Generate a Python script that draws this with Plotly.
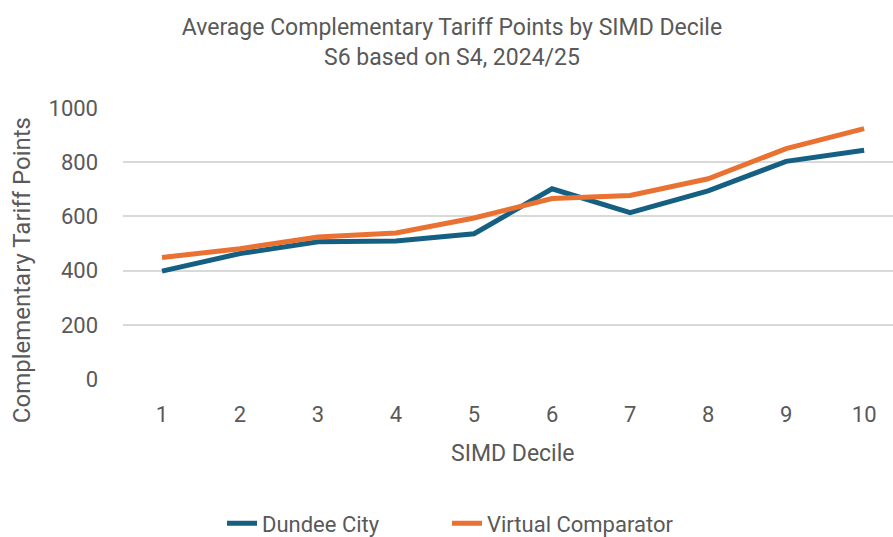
import plotly.graph_objects as go

deciles = ["1", "2", "3", "4", "5", "6", "7", "8", "9", "10"]
dundee = [398, 463, 506, 509, 536, 702, 614, 694, 803, 844]
virtual = [448, 481, 524, 539, 594, 666, 677, 739, 850, 924]
y_ticks = [0, 200, 400, 600, 800, 1000]

FONT = "Roboto"
GREY = "#595959"

W, H = 893, 537
L, T, B = 123, 108, 537 - 378.7
PH = H - T - B
PW = W - L

fig = go.Figure()
fig.add_trace(go.Scatter(x=deciles, y=dundee, mode="lines", name="Dundee City",
                         line=dict(color="#156082", width=5), legend="legend"))
fig.add_trace(go.Scatter(x=deciles, y=virtual, mode="lines", name="Virtual Comparator",
                         line=dict(color="#E97132", width=5), legend="legend2"))

leg_common = dict(orientation="h", xref="paper", xanchor="left",
                  y=-(523 - 378.7) / PH, yanchor="middle",
                  font=dict(size=22, color=GREY), bgcolor="rgba(0,0,0,0)")

fig.update_layout(
    width=W, height=H,
    margin=dict(l=L, r=0, t=T, b=B, pad=0, autoexpand=False),
    paper_bgcolor="white", plot_bgcolor="white",
    font=dict(family=FONT, color=GREY, size=22),
    title=dict(text="Average Complementary Tariff Points by SIMD Decile<br>S6 based on S4, 2024/25",
               x=452 / W, xanchor="center", y=1 - 35 / H, yanchor="middle",
               font=dict(family=FONT, size=23, color=GREY)),
    showlegend=True,
    legend=dict(x=(222 - L) / PW, **leg_common),
    legend2=dict(x=(447 - L) / PW, **leg_common),
    xaxis=dict(type="category", range=[-0.5, 9.37], showgrid=False, zeroline=False,
               showline=False, ticks="", ticklabelstandoff=20,
               tickfont=dict(size=22, color=GREY)),
    yaxis=dict(range=[0, 1000], tickvals=y_ticks, showgrid=True, gridcolor="#d9d9d9",
               gridwidth=1.5, zeroline=False, showline=False, ticks="",
               ticklabelstandoff=24, tickfont=dict(size=22, color=GREY)),
    annotations=[
        dict(text="Complementary Tariff Points", xref="paper", yref="paper",
             x=-(L - 22) / PW, y=(378.7 - 270) / PH, textangle=-90,
             showarrow=False, xanchor="center", yanchor="middle",
             font=dict(size=24, color=GREY)),
        dict(text="SIMD Decile", xref="x", yref="paper", x=4.5,
             y=-(453 - 378.7) / PH, showarrow=False, xanchor="center",
             yanchor="middle", font=dict(size=23, color=GREY)),
    ],
)

fig.write_html("out.html", config={"displayModeBar": False})

# remove the browser's default body margin so the figure sits at (0, 0)
with open("out.html", "r", encoding="utf-8") as f:
    html = f.read()
html = html.replace("<head>", "<head><style>html,body{margin:0;padding:0;overflow:hidden;}</style>", 1)
with open("out.html", "w", encoding="utf-8") as f:
    f.write(html)
